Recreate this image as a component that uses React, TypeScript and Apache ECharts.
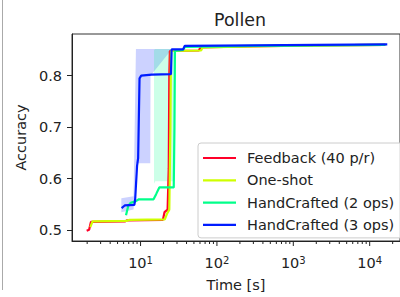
import React, { useEffect, useRef } from 'react';
import * as echarts from 'echarts';

const FONT = 'DejaVu Sans';
const TEXT = '#222222';

const seriesNames = ['Feedback (40 p/r)', 'One-shot', 'HandCrafted (2 ops)', 'HandCrafted (3 ops)'];
const seriesColors = ['#ff0029', '#cfff00', '#00ff8a', '#001cff'];

const feedback: [number, number][] = [
  [1.97, 0.499], [2.12, 0.501], [2.24, 0.516], [6.3, 0.517], [6.6, 0.519], [19.6, 0.52],
  [20.6, 0.535], [22.6, 0.54], [23.4, 0.62], [23.8, 0.8], [24.2, 0.848], [58, 0.849],
  [61, 0.855], [250, 0.857], [2000, 0.859], [16000, 0.86],
];
const oneShot: [number, number][] = [
  [2.2, 0.506], [2.35, 0.517], [6.5, 0.518], [7.2, 0.52], [20.8, 0.521], [22.4, 0.533],
  [23.8, 0.54], [24.6, 0.7], [25.0, 0.848], [62, 0.849], [65, 0.855], [300, 0.857],
  [2000, 0.859], [16000, 0.86],
];
const handCrafted2: [number, number][] = [
  [6.45, 0.529], [6.9, 0.547], [7.4, 0.553], [8.6, 0.556], [9.5, 0.56], [14.8, 0.56],
  [16.0, 0.57], [17.6, 0.583], [27.2, 0.583], [27.8, 0.7], [28.2, 0.848], [36, 0.85],
  [38, 0.856], [300, 0.858], [2000, 0.859], [16000, 0.86],
];
const handCrafted3: [number, number][] = [
  [5.65, 0.543], [6.2, 0.548], [8.3, 0.549], [8.5, 0.56], [9.0, 0.625], [9.3, 0.64],
  [9.7, 0.795], [10.2, 0.8], [14, 0.802], [25, 0.803], [25.5, 0.851], [36, 0.851],
  [38, 0.858], [300, 0.859], [2000, 0.86], [17000, 0.861],
];

// shaded spread bands
const band3X = [5.6, 8.1, 8.7, 13.4, 13.5, 25.5];
const band3Lo = [0.535, 0.54, 0.63, 0.63, 0.8, 0.851];
const band3Hi = [0.562, 0.566, 0.852, 0.852, 0.852, 0.852];
const band2X = [15.0, 15.6, 27.9, 28.3];
const band2Lo = [0.59, 0.595, 0.595, 0.85];
const band2Hi = [0.85, 0.852, 0.852, 0.852];

const xMajorTicks = [10, 100, 1000, 10000];
const xMinorTicks = [
  2, 3, 4, 5, 6, 7, 8, 9,
  20, 30, 40, 50, 60, 70, 80, 90,
  200, 300, 400, 500, 600, 700, 800, 900,
  2000, 3000, 4000, 5000, 6000, 7000, 8000, 9000,
  20000,
];
const yTicks = [0.5, 0.6, 0.7, 0.8];

const X_MIN = 1.266;
const X_MAX = 24950;
const Y_MIN = 0.479;
const Y_MAX = 0.881;

function bandSeries(xs: number[], lo: number[], hi: number[], fill: string) {
  return {
    type: 'custom',
    silent: true,
    z: 1,
    data: xs.map((x, i) => [x, lo[i], hi[i]]),
    encode: { x: 0, y: [1, 2] },
    renderItem: (params: any, api: any) => {
      if (params.dataIndex !== 0) return null;
      const upper = xs.map((x, i) => api.coord([x, hi[i]]));
      const lower = xs.map((x, i) => api.coord([x, lo[i]])).reverse();
      return {
        type: 'polygon',
        shape: { points: upper.concat(lower) },
        style: { fill },
      };
    },
  };
}

export default function App() {
  const ref = useRef<HTMLDivElement>(null);
  useEffect(() => {
    if (!ref.current) return;
    const chart = echarts.init(ref.current, null, { renderer: 'svg' });
    const tickData = [
      ...xMajorTicks.map((v) => [v, 5]),
      ...xMinorTicks.map((v) => [v, 3]),
    ];
    const lines = [feedback, oneShot, handCrafted2, handCrafted3].map((d, i) => ({
      type: 'line',
      name: seriesNames[i],
      data: d,
      symbol: 'none',
      showSymbol: false,
      z: 3,
      lineStyle: { width: 2.2, color: seriesColors[i] },
      itemStyle: { color: seriesColors[i] },
    }));
    chart.setOption({
      animation: false,
      grid: {
        left: 72, top: 34, right: -7, bottom: 52,
        show: true, borderColor: '#333', borderWidth: 1, backgroundColor: 'transparent',
      },
      graphic: [
        { type: 'line', shape: { x1: 2.5, y1: 0, x2: 2.5, y2: 290 }, style: { stroke: '#aaaaaa', lineWidth: 1 } },
        {
          type: 'text', x: 240, y: 20,
          style: { text: 'Pollen', fontFamily: FONT, fontSize: 17.4, fill: TEXT, textAlign: 'center', textVerticalAlign: 'middle' },
        },
      ],
      legend: {
        data: seriesNames.map((n) => ({ name: n, icon: 'rect' })),
        orient: 'vertical',
        left: 198, top: 143,
        itemWidth: 33, itemHeight: 2.2, itemGap: 6.3,
        padding: [7, 10, 5, 5],
        backgroundColor: 'rgba(255,255,255,0.8)',
        borderColor: '#cccccc', borderWidth: 1, borderRadius: 3,
        textStyle: { fontFamily: FONT, fontSize: 14.5, color: TEXT, lineHeight: 16, padding: [0, 0, 0, 6] },
      },
      xAxis: {
        type: 'log', logBase: 10, min: X_MIN, max: X_MAX,
        axisLine: { show: true, lineStyle: { color: '#222', width: 1 } },
        axisTick: { show: false },
        minorTick: { show: false },
        splitLine: { show: false },
        axisLabel: {
          showMinLabel: false, showMaxLabel: false, margin: 14,
          formatter: (v: number) => {
            const l = Math.log10(v);
            const e = Math.round(l);
            if (Math.abs(l - e) > 1e-6) return '';
            return `{b|10}{s|${e}}`;
          },
          rich: {
            b: { fontFamily: FONT, fontSize: 14.5, color: TEXT },
            s: { fontFamily: FONT, fontSize: 10, color: TEXT, verticalAlign: 'top' },
          },
        },
        name: 'Time [s]', nameLocation: 'middle', nameGap: 36,
        nameTextStyle: { fontFamily: FONT, fontSize: 14.5, color: TEXT },
      },
      yAxis: {
        type: 'value', min: Y_MIN, max: Y_MAX,
        axisLine: { show: true, lineStyle: { color: '#222', width: 1 } },
        axisTick: { show: true, length: 5, customValues: yTicks, lineStyle: { color: '#222' } },
        axisLabel: {
          customValues: yTicks, margin: 10,
          formatter: (v: number) => v.toFixed(1),
          fontFamily: FONT, fontSize: 14.5, color: TEXT,
        },
        splitLine: { show: false },
        name: 'Accuracy', nameLocation: 'middle', nameGap: 39,
        nameTextStyle: { fontFamily: FONT, fontSize: 14.5, color: TEXT },
      },
      series: [
        bandSeries(band3X, band3Lo, band3Hi, 'rgba(0,28,255,0.2)'),
        bandSeries(band2X, band2Lo, band2Hi, 'rgba(0,255,138,0.2)'),
        ...lines,
        {
          type: 'custom',
          silent: true,
          clip: false,
          z: 5,
          data: tickData,
          encode: { x: 0, y: 1 },
          renderItem: (params: any, api: any) => {
            const v = api.value(0);
            const len = api.value(1);
            const p = api.coord([v, Y_MIN]);
            return {
              type: 'line',
              shape: { x1: p[0], y1: p[1], x2: p[0], y2: p[1] + len },
              style: { stroke: '#222', lineWidth: 1 },
            };
          },
        },
      ],
    });
    return () => chart.dispose();
  }, []);
  return (
    <div
      ref={ref}
      style={{ position: 'fixed', left: 0, top: 0, width: 400, height: 297, background: '#fff' }}
    />
  );
}
